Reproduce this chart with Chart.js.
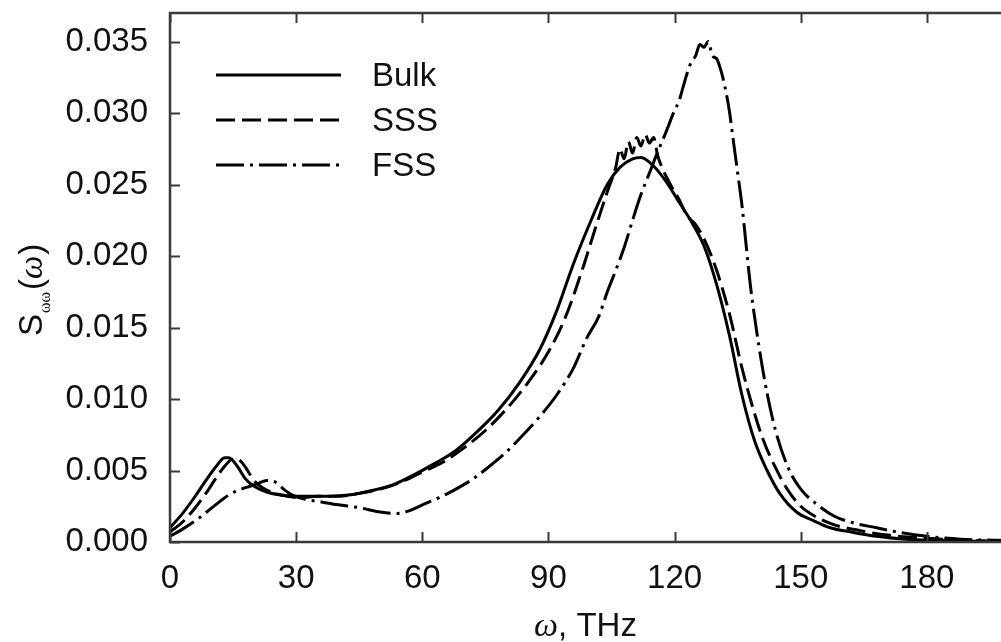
<!DOCTYPE html>
<html>
<head>
<meta charset="utf-8">
<script src="https://cdn.jsdelivr.net/npm/chart.js@4"></script>
<style>
  html, body { margin: 0; padding: 0; background: #fff; overflow: hidden; }
  #wrap { width: 1011px; height: 642px; }
</style>
</head>
<body>
<div id="wrap"><canvas id="myChart"></canvas></div>
<script>
// omega in THz, S in arbitrary units
const bulkOmega = [0, 3, 6, 9, 11, 13, 14, 16, 18, 20, 23, 26, 29, 33, 38, 43, 48, 53, 58, 63, 68, 73, 78, 83, 88, 92, 96, 100, 104, 107, 110, 112, 115, 118, 121, 124, 127, 130, 133, 136, 139, 142, 145, 149, 153, 157, 162, 168, 175, 183, 191, 200];
const bulkS = [0.0010, 0.0020, 0.0032, 0.0045, 0.0053, 0.0059, 0.0059, 0.0053, 0.0044, 0.0039, 0.0035, 0.0033, 0.0032, 0.0032, 0.0032, 0.0033, 0.0036, 0.0040, 0.0047, 0.0055, 0.0064, 0.0077, 0.0092, 0.0111, 0.0135, 0.0162, 0.0195, 0.0224, 0.0250, 0.0262, 0.0268, 0.0269, 0.0263, 0.0252, 0.0238, 0.0224, 0.0207, 0.0180, 0.0145, 0.0103, 0.0071, 0.0050, 0.0034, 0.0021, 0.0015, 0.0010, 0.0007, 0.0004, 0.0002, 0.00012, 0.00005, 0.00002];

const sssOmega = [0, 3, 6, 9, 11, 13, 15, 16, 17, 18, 20, 22, 25, 28, 31, 35, 40, 45, 50, 55, 60, 65, 70, 75, 80, 85, 90, 94, 98, 101, 104, 106, 107, 108, 109, 110, 111, 112, 113, 114, 115, 116, 117, 119, 121, 123, 125, 127, 130, 133, 136, 138, 141, 144, 147, 150, 154, 158, 164, 170, 178, 186, 193, 200];
const sssS = [0.0007, 0.0014, 0.0024, 0.0036, 0.0045, 0.0053, 0.0058, 0.0058, 0.0056, 0.0052, 0.0043, 0.0038, 0.0034, 0.0032, 0.0031, 0.0032, 0.0032, 0.0034, 0.0037, 0.0042, 0.0049, 0.0056, 0.0066, 0.0078, 0.0093, 0.0111, 0.0133, 0.0157, 0.0190, 0.0218, 0.0245, 0.0262, 0.0275, 0.0268, 0.0280, 0.0272, 0.0283, 0.0277, 0.0285, 0.0279, 0.0283, 0.0270, 0.0262, 0.0250, 0.0240, 0.0228, 0.0222, 0.0212, 0.0190, 0.0160, 0.0122, 0.0100, 0.0072, 0.0052, 0.0036, 0.0025, 0.0017, 0.0012, 0.0008, 0.0005, 0.0003, 0.00015, 0.00008, 0.00003];

const fssOmega = [0, 3, 7, 10, 14, 17, 19, 21, 23, 25, 27, 29, 32, 36, 40, 45, 50, 54, 57, 60, 64, 68, 72, 76, 80, 84, 88, 92, 96, 99, 102, 104, 106, 108, 110, 112, 114, 116, 118, 120, 121, 122, 123, 124, 125, 126, 127, 128, 129, 130, 131, 132, 133, 134, 135, 136, 138, 140, 142, 144, 147, 150, 154, 158, 163, 168, 173, 180, 188, 200];
const fssS = [0.0004, 0.0009, 0.0017, 0.0024, 0.0033, 0.0037, 0.0039, 0.0041, 0.0043, 0.0042, 0.0037, 0.0033, 0.0030, 0.0028, 0.0026, 0.0024, 0.0021, 0.0020, 0.0022, 0.0026, 0.0031, 0.0037, 0.0044, 0.0053, 0.0063, 0.0075, 0.0088, 0.0103, 0.0122, 0.0142, 0.0158, 0.0175, 0.0190, 0.0206, 0.0225, 0.0243, 0.0258, 0.0273, 0.0287, 0.0302, 0.0308, 0.0318, 0.0328, 0.0336, 0.0340, 0.0348, 0.0346, 0.0350, 0.0340, 0.0338, 0.0330, 0.0318, 0.0302, 0.0280, 0.0258, 0.0236, 0.0180, 0.0138, 0.0104, 0.0078, 0.0052, 0.0037, 0.0026, 0.0018, 0.0013, 0.0010, 0.0007, 0.0004, 0.0002, 0.0001];

const seriesNames = ['Bulk', 'SSS', 'FSS'];
const xTicks = [0, 30, 60, 90, 120, 150, 180];

const FONT = "'Liberation Sans', Arial, sans-serif";
const SERIF = "'Liberation Serif', 'Times New Roman', serif";
const AXIS = '#3a3a3a';

function toPoints(xs, ys) {
    return xs.map((x, i) => ({x: x, y: ys[i]}));
}

// box, inward ticks, legend and axis titles
const decorations = {
    id: 'decorations',
    afterDraw(chart) {
        const ctx = chart.ctx;
        const a = chart.chartArea;
        const sx = chart.scales.x;
        const sy = chart.scales.y;
        ctx.save();
        ctx.strokeStyle = AXIS;
        ctx.lineWidth = 2.5;
        ctx.strokeRect(a.left, a.top, a.right - a.left, a.bottom - a.top);
        ctx.lineWidth = 2;
        ctx.beginPath();
        xTicks.forEach(v => {
            const px = Math.round(sx.getPixelForValue(v)) + 0.5;
            ctx.moveTo(px, a.bottom); ctx.lineTo(px, a.bottom - 10);
            ctx.moveTo(px, a.top); ctx.lineTo(px, a.top + 10);
        });
        sy.ticks.forEach(t => {
            const py = Math.round(sy.getPixelForValue(t.value)) + 0.5;
            ctx.moveTo(a.left, py); ctx.lineTo(a.left + 10, py);
            ctx.moveTo(a.right, py); ctx.lineTo(a.right - 10, py);
        });
        ctx.stroke();

        // legend
        const legY = [75, 120, 165];
        chart.data.datasets.forEach((ds, i) => {
            ctx.strokeStyle = '#000';
            ctx.lineWidth = 3;
            ctx.setLineDash(ds.borderDash || []);
            ctx.beginPath();
            ctx.moveTo(216, legY[i]);
            ctx.lineTo(341, legY[i]);
            ctx.stroke();
            ctx.setLineDash([]);
            ctx.fillStyle = '#111';
            ctx.font = '33px ' + FONT;
            ctx.textBaseline = 'middle';
            ctx.textAlign = 'left';
            ctx.fillText(ds.label, 372, legY[i] + 2);
        });

        // x title
        ctx.textBaseline = 'alphabetic';
        ctx.fillStyle = '#111';
        ctx.font = 'italic 34px ' + SERIF;
        const w1 = ctx.measureText('\u03c9').width;
        ctx.font = '33px ' + FONT;
        const w2 = ctx.measureText(', THz').width;
        let x0 = (a.left + 1001) / 2 - (w1 + w2) / 2;
        ctx.font = 'italic 34px ' + SERIF;
        ctx.fillText('\u03c9', x0, 636);
        ctx.font = '33px ' + FONT;
        ctx.fillText(', THz', x0 + w1, 636);

        // y title, rotated
        ctx.translate(42, 336);
        ctx.rotate(-Math.PI / 2);
        let cx = 0;
        ctx.font = '33px ' + FONT;
        ctx.fillText('S', cx, 0);
        cx += ctx.measureText('S').width + 1;
        ctx.font = '16px ' + SERIF;
        ctx.fillText('\u03c9\u03c9', cx, 8);
        cx += ctx.measureText('\u03c9\u03c9').width + 2;
        ctx.font = '33px ' + FONT;
        ctx.fillText('(', cx, 0);
        cx += ctx.measureText('(').width;
        ctx.font = 'italic 33px ' + SERIF;
        ctx.fillText('\u03c9', cx, 0);
        cx += ctx.measureText('\u03c9').width + 1;
        ctx.font = '33px ' + FONT;
        ctx.fillText(')', cx, 0);
        ctx.restore();
    }
};

var ctx = document.getElementById('myChart').getContext('2d');

var myChart = new Chart(ctx, {
    type: 'line',
    data: {
        datasets: [{
            label: seriesNames[0],
            data: toPoints(bulkOmega, bulkS),
            borderColor: '#000',
            borderWidth: 3,
            borderDash: [],
        }, {
            label: seriesNames[1],
            data: toPoints(sssOmega, sssS),
            borderColor: '#000',
            borderWidth: 3,
            borderDash: [19, 7],
        }, {
            label: seriesNames[2],
            data: toPoints(fssOmega, fssS),
            borderColor: '#000',
            borderWidth: 3,
            borderDash: [28, 6, 3, 6],
        }]
    },
    options: {
        responsive: true,
        maintainAspectRatio: false,
        animation: false,
        layout: {
            padding: { top: 13, right: 0, left: 0, bottom: 0 }
        },
        elements: {
            point: { radius: 0 },
            line: { cubicInterpolationMode: 'monotone', borderCapStyle: 'butt' }
        },
        plugins: {
            legend: { display: false },
            tooltip: { enabled: false }
        },
        scales: {
            x: {
                type: 'linear',
                min: 0,
                max: 200,
                afterFit(scale) {
                    scale.height = 100;
                    scale.paddingLeft = 0;
                    scale.paddingRight = 0;
                },
                grid: { display: false, drawTicks: false },
                border: { display: false },
                ticks: {
                    stepSize: 30,
                    includeBounds: false,
                    padding: 17,
                    color: '#111',
                    font: { family: FONT, size: 33 },
                    maxRotation: 0
                }
            },
            y: {
                min: 0,
                max: 0.037,
                afterFit(scale) {
                    scale.width = 170;
                    scale.paddingTop = 0;
                    scale.paddingBottom = 0;
                },
                grid: { display: false, drawTicks: false },
                border: { display: false },
                ticks: {
                    stepSize: 0.005,
                    includeBounds: false,
                    padding: 22,
                    color: '#111',
                    font: { family: FONT, size: 33 },
                    callback: v => v.toFixed(3)
                }
            }
        }
    },
    plugins: [decorations]
});
</script>
</body>
</html>
